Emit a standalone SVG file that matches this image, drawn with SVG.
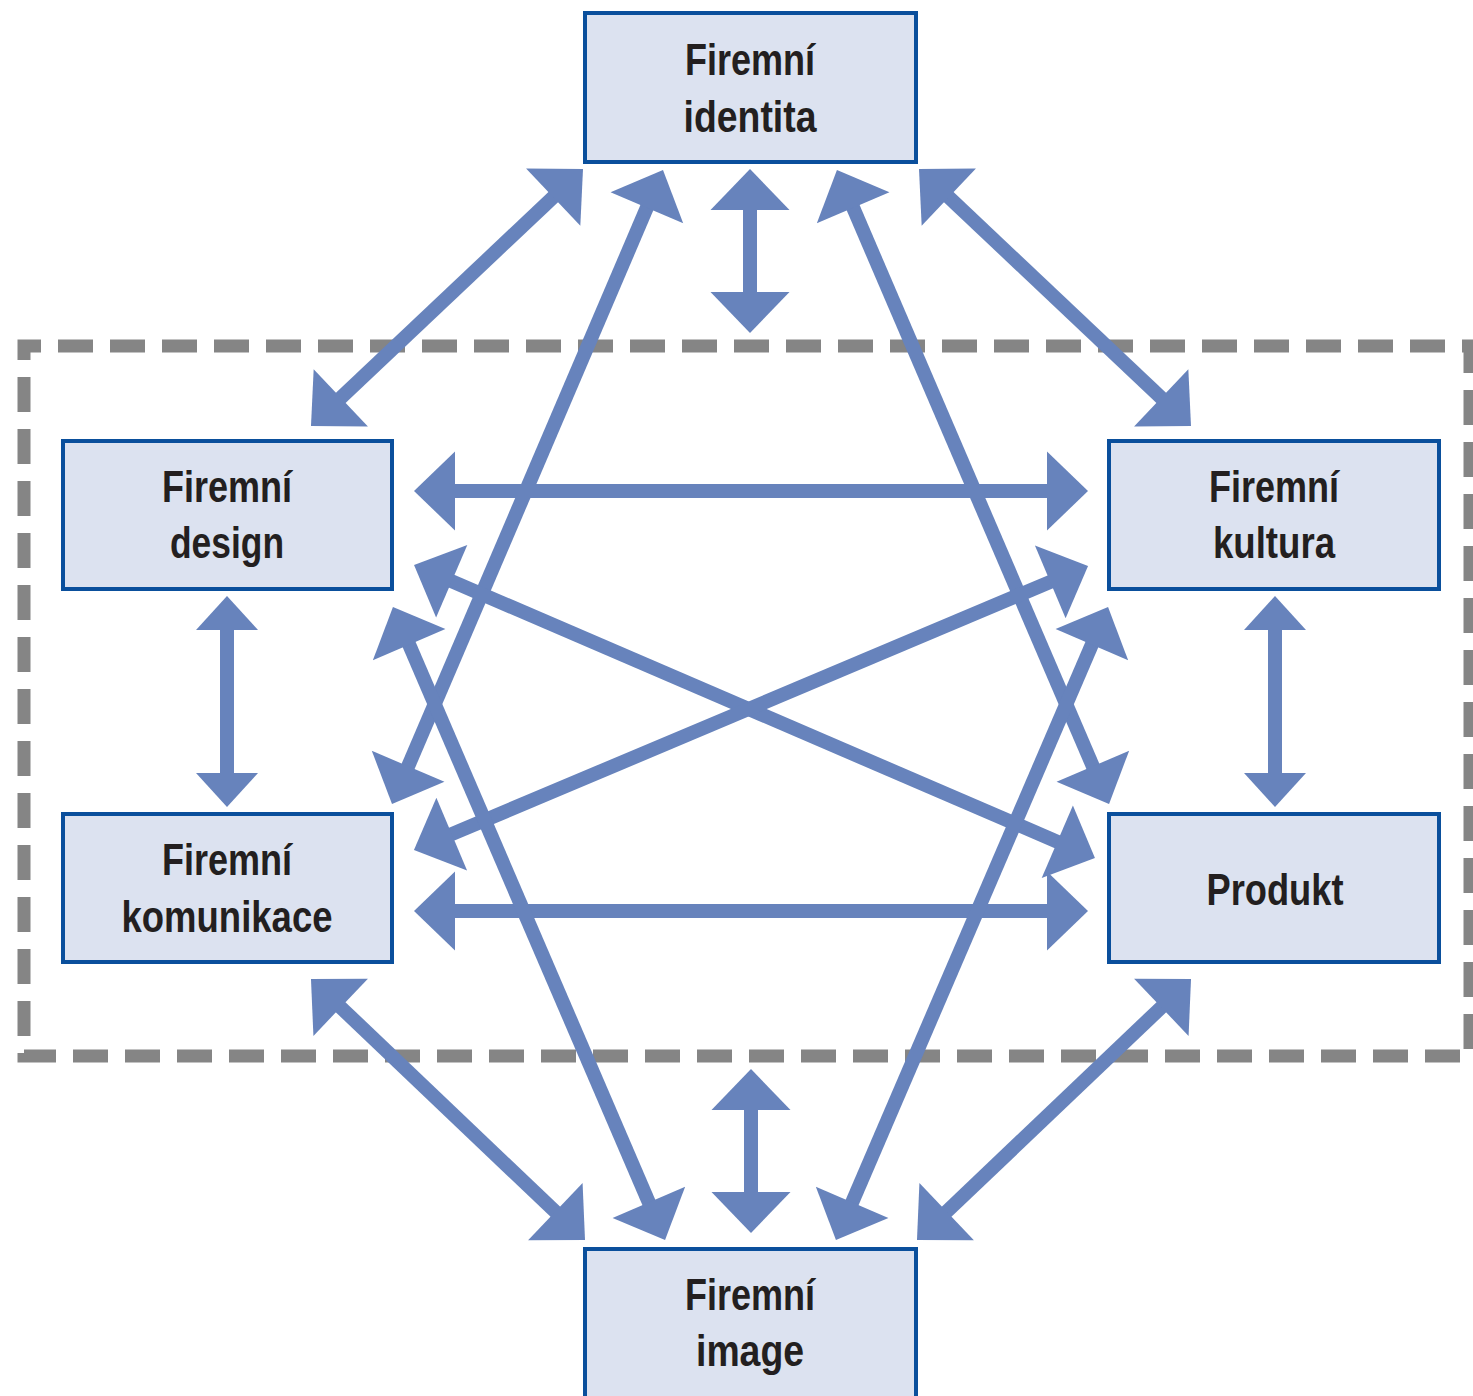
<svg xmlns="http://www.w3.org/2000/svg" width="1473" height="1396" viewBox="0 0 1473 1396">
<style>
.box{fill:#dce2f0;stroke:#0a4f9c;stroke-width:4}
.lbl{font-family:"Liberation Sans Narrow","Liberation Sans",Arial,sans-serif;font-weight:bold;font-size:44px;fill:#231f20;text-anchor:middle}
.ar{stroke:#6783bc;stroke-width:14;fill:none;marker-start:url(#hb);marker-end:url(#hb)}
.ar.s{marker-start:url(#hs);marker-end:url(#hs)}
.frame{fill:none;stroke:#858585;stroke-width:13;stroke-dasharray:35 17;stroke-dashoffset:18}
</style>
<defs>
<marker id="hb" markerUnits="userSpaceOnUse" orient="auto-start-reverse" refX="0" refY="0" markerWidth="90" markerHeight="90" viewBox="-15 -45 50 90" overflow="visible">
<path d="M30,0 L-11,-39.5 L-11,39.5 Z" fill="#6783bc"/>
</marker>
<marker id="hs" markerUnits="userSpaceOnUse" orient="auto-start-reverse" refX="0" refY="0" markerWidth="80" markerHeight="80" viewBox="-15 -40 45 80" overflow="visible">
<path d="M25,0 L-9,-31 L-9,31 Z" fill="#6783bc"/>
</marker>
</defs>
<rect width="1473" height="1396" fill="#ffffff"/>
<path class="frame" d="M24,346 H1470 V1056 H24 Z"/>
<g id="connectors">
<line class="ar" x1="561.2" y1="189.6" x2="332.8" y2="405.4"/>
<line class="ar" x1="940.8" y1="189.6" x2="1169.2" y2="405.4"/>
<line class="ar" x1="651.2" y1="197.6" x2="403.8" y2="776.4"/>
<line class="ar" x1="848.8" y1="197.6" x2="1097.2" y2="776.4"/>
<line class="ar" x1="750" y1="199" x2="750" y2="303"/>
<line class="ar" x1="444" y1="491" x2="1058" y2="491"/>
<line class="ar" x1="444" y1="911" x2="1058" y2="911"/>
<line class="ar" x1="441.6" y1="576.9" x2="1067.4" y2="846.1"/>
<line class="ar" x1="441.6" y1="838.4" x2="1060.4" y2="577.6"/>
<line class="ar s" x1="227" y1="621" x2="227" y2="782"/>
<line class="ar s" x1="1275" y1="621" x2="1275" y2="782"/>
<line class="ar" x1="404.8" y1="634.6" x2="653.2" y2="1212.4"/>
<line class="ar" x1="1096.2" y1="634.6" x2="847.8" y2="1212.4"/>
<line class="ar" x1="332.7" y1="999.7" x2="563.3" y2="1219.3"/>
<line class="ar" x1="1169.3" y1="999.7" x2="938.7" y2="1219.3"/>
<line class="ar" x1="751" y1="1099" x2="751" y2="1203"/>
</g>
<g id="identita">
<rect class="box" x="585" y="13" width="331" height="149"/>
<text class="lbl" x="750" y="75" textLength="130" lengthAdjust="spacingAndGlyphs">Firemní</text>
<text class="lbl" x="750" y="132" textLength="133" lengthAdjust="spacingAndGlyphs">identita</text>
</g>
<g id="design">
<rect class="box" x="63" y="441" width="329" height="148"/>
<text class="lbl" x="227" y="502" textLength="130" lengthAdjust="spacingAndGlyphs">Firemní</text>
<text class="lbl" x="227" y="558" textLength="114" lengthAdjust="spacingAndGlyphs">design</text>
</g>
<g id="kultura">
<rect class="box" x="1109" y="441" width="330" height="148"/>
<text class="lbl" x="1274" y="502" textLength="130" lengthAdjust="spacingAndGlyphs">Firemní</text>
<text class="lbl" x="1274" y="558" textLength="122" lengthAdjust="spacingAndGlyphs">kultura</text>
</g>
<g id="komunikace">
<rect class="box" x="63" y="814" width="329" height="148"/>
<text class="lbl" x="227" y="875" textLength="130" lengthAdjust="spacingAndGlyphs">Firemní</text>
<text class="lbl" x="227" y="932" textLength="211" lengthAdjust="spacingAndGlyphs">komunikace</text>
</g>
<g id="produkt">
<rect class="box" x="1109" y="814" width="330" height="148"/>
<text class="lbl" x="1275" y="905" textLength="137" lengthAdjust="spacingAndGlyphs">Produkt</text>
</g>
<g id="image">
<rect class="box" x="585" y="1249" width="331" height="160"/>
<text class="lbl" x="750" y="1310" textLength="130" lengthAdjust="spacingAndGlyphs">Firemní</text>
<text class="lbl" x="750" y="1366" textLength="108" lengthAdjust="spacingAndGlyphs">image</text>
</g>
</svg>
